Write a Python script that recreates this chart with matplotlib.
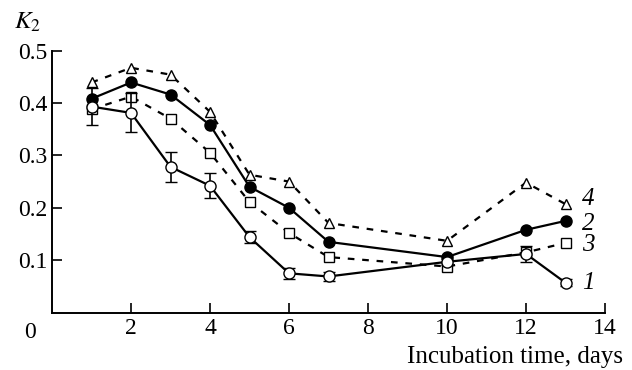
import matplotlib
matplotlib.use("Agg")
import matplotlib.pyplot as plt

days = [1, 2, 3, 4, 5, 6, 7, 10, 12, 13]
k2_1 = [0.393, 0.381, 0.278, 0.242, 0.144, 0.075, 0.069, 0.097, 0.112, 0.057]
err_1 = [0.035, 0.037, 0.028, 0.024, 0.012, 0.011, 0.008, 0.006, 0.015, 0.007]
k2_2 = [0.408, 0.439, 0.416, 0.358, 0.240, 0.200, 0.135, 0.106, 0.158, 0.175]
k2_3 = [0.388, 0.412, 0.370, 0.305, 0.211, 0.152, 0.106, 0.088, 0.115, 0.133]
k2_4 = [0.439, 0.467, 0.454, 0.383, 0.263, 0.250, 0.171, 0.137, 0.248, 0.207]
curve_names = ["1", "2", "3", "4"]

plt.rcParams['font.family'] = ['Liberation Serif', 'DejaVu Serif']
plt.rcParams['font.size'] = 17

fig = plt.figure(figsize=(6.32, 3.70), dpi=100)
ax = fig.add_axes([0.0823, 0.155, 0.875, 0.7085])

dash = (0, (3, 3.5))
ax.plot(days, k2_4, color='black', lw=1.6, ls=dash, marker='^', ms=7,
        mfc='white', mec='black', mew=1.0, zorder=2)
ax.plot(days, k2_3, color='black', lw=1.6, ls=dash, marker='s', ms=7,
        mfc='white', mec='black', mew=1.0, zorder=2)
ax.plot(days, k2_2, color='black', lw=1.6, marker='o', ms=8,
        mfc='black', mec='black', zorder=3)
ax.errorbar(days, k2_1, yerr=err_1, color='black', lw=1.6, marker='o', ms=8,
            mfc='white', mec='black', mew=1.0, capsize=4.5, elinewidth=1.2,
            capthick=1.2, zorder=4)

# curve numbers at the right end
ends = [k2_1[-1], k2_2[-1], k2_3[-1], k2_4[-1]]
offs = [0.0, -0.005, -0.004, 0.01]
for name, y, o in zip(curve_names, ends, offs):
    ax.text(days[-1] + 0.42, y + o, name, style='italic', fontsize=18,
            va='center', ha='left')

ax.set_xlim(0, 14)
ax.set_ylim(0, 0.5)
ax.set_xticks([2, 4, 6, 8, 10, 12, 14])
ax.set_yticks([0.1, 0.2, 0.3, 0.4, 0.5])
ax.set_yticklabels(['0.1', '0.2', '0.3', '0.4', '0.5'])
ax.tick_params(direction='in', length=7, width=1.2, labelsize=17)
ax.tick_params(axis='x', pad=4)
ax.tick_params(axis='y', pad=3)
ax.spines['top'].set_visible(False)
ax.spines['right'].set_visible(False)
for s in ['left', 'bottom']:
    ax.spines[s].set_linewidth(1.4)

fig.text(30 / 632, 1 - 333 / 370, "0", fontsize=17, ha='center', va='center')
fig.text(1 - 9 / 632, 1 - 357 / 370, "Incubation time, days", fontsize=18,
         ha='right', va='center')
fig.text(14 / 632, 1 - 22 / 370, r"$K_2$", fontsize=18, ha='left', va='center',
         math_fontfamily='stix')

fig.savefig("out.png", dpi=100)
